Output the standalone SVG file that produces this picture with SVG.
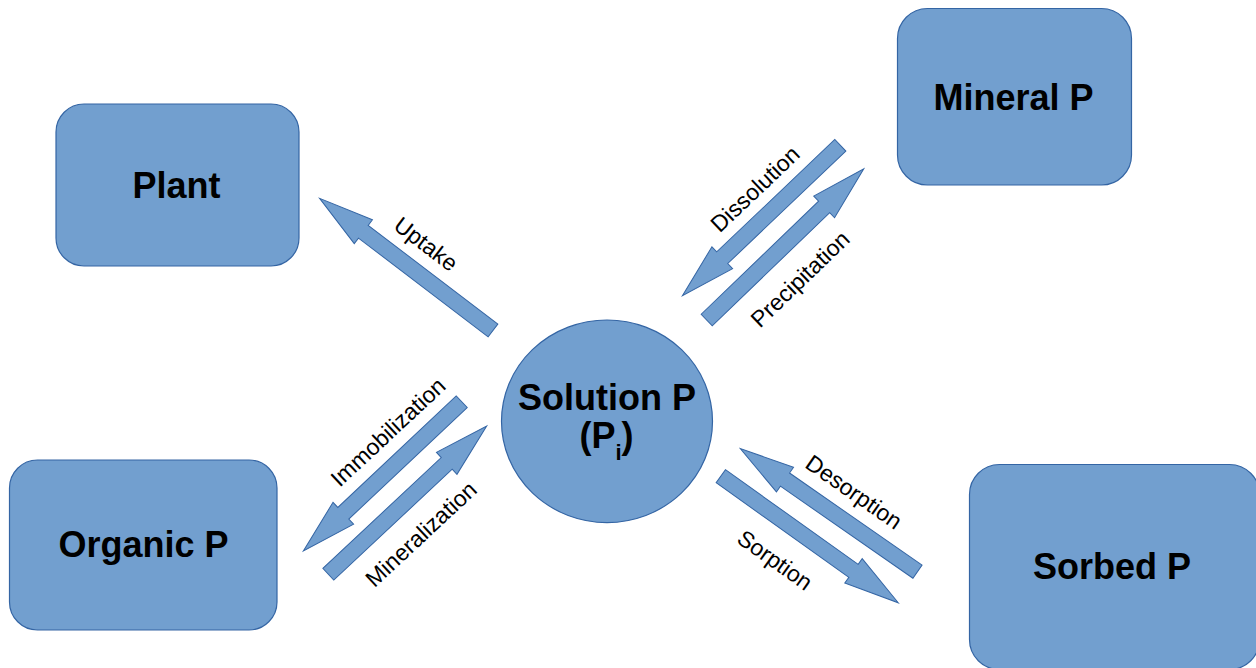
<svg xmlns="http://www.w3.org/2000/svg" xmlns:xlink="http://www.w3.org/1999/xlink" width="1256" height="668" viewBox="0 0 1256 668">
<style>
.box{fill:#729fcf;stroke:#3465a4;stroke-width:1.2}
.arr{fill:#729fcf;stroke:#3465a4;stroke-width:1}
.title{font-family:"Liberation Sans",Arial,sans-serif;font-weight:bold;font-size:36px;fill:#000;text-anchor:middle}
.lbl{font-family:"Liberation Sans",Arial,sans-serif;font-size:23px;fill:#000;text-anchor:middle;dominant-baseline:central}
</style>
<defs>
<path id="blk" class="arr" d="M0,-8 L163,-8 L163,-15 L218,0 L163,15 L163,8 L0,8 Z"/>
</defs>
<rect width="1256" height="668" fill="#fff"/>
<g id="connectors">
<use xlink:href="#blk" href="#blk" transform="translate(493,330.5) rotate(217.3)"/>
<use xlink:href="#blk" href="#blk" transform="translate(840.3,145.3) rotate(136.4)"/>
<use xlink:href="#blk" href="#blk" transform="translate(706.7,320) rotate(-43.9)"/>
<use xlink:href="#blk" href="#blk" transform="translate(461.7,401.7) rotate(136.7) scale(0.998,1)"/>
<use xlink:href="#blk" href="#blk" transform="translate(328.3,574.2) rotate(-43.1) scale(0.995,1)"/>
<use xlink:href="#blk" href="#blk" transform="translate(917.5,571.7) rotate(214.8) scale(0.99,1)"/>
<use xlink:href="#blk" href="#blk" transform="translate(720.8,476.2) rotate(35.5)"/>
<text class="lbl" transform="translate(426,244) rotate(37.3)">Uptake</text>
<text class="lbl" transform="translate(755,189) rotate(-43.6)">Dissolution</text>
<text class="lbl" transform="translate(800,279) rotate(-43.9)">Precipitation</text>
<text class="lbl" transform="translate(388,432) rotate(-43)">Immobilization</text>
<text class="lbl" transform="translate(421,534) rotate(-43)">Mineralization</text>
<text class="lbl" transform="translate(854,492) rotate(34.8)">Desorption</text>
<text class="lbl" transform="translate(775,560) rotate(35.5)">Sorption</text>
</g>
<g id="plant">
<rect class="box" x="56" y="104" width="243" height="162" rx="28" ry="28"/>
<text class="title" x="176.5" y="198">Plant</text>
</g>
<g id="mineral">
<rect class="box" x="897.5" y="8.5" width="234" height="176.5" rx="30" ry="30"/>
<text class="title" x="1013.5" y="110">Mineral P</text>
</g>
<g id="organic">
<rect class="box" x="9.5" y="460" width="267.5" height="170" rx="28" ry="28"/>
<text class="title" x="143.5" y="557">Organic P</text>
</g>
<g id="sorbed">
<rect class="box" x="969.5" y="464.5" width="290" height="205" rx="30" ry="30"/>
<text class="title" x="1112" y="579">Sorbed P</text>
</g>
<g id="solution">
<ellipse class="box" cx="607" cy="421.3" rx="105.5" ry="101.3"/>
<text class="title" x="607" y="410">Solution P</text>
<text class="title" x="606.5" y="448">(P<tspan font-size="22" dy="12">i</tspan><tspan dy="-12">)</tspan></text>
</g>
</svg>
